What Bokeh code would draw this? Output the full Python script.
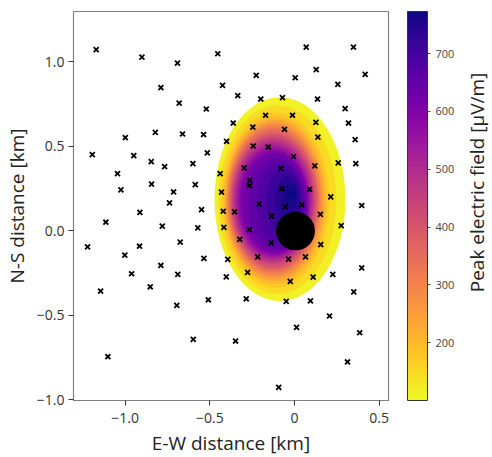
import math
from bokeh.plotting import figure
from bokeh.layouts import row
from bokeh.models import (Range1d, FixedTicker, LinearColorMapper, ColorBar, Label, ColumnDataSource)
from bokeh.palettes import Plasma256
from bokeh.embed import file_html
from bokeh.resources import INLINE

# ---- data (km) ----
# peak field read as nested iso-bands (value in uV/m): centre, full width, full height
band_value = [115, 145, 175, 205, 235, 265, 295, 325, 355, 385, 415, 445, 475, 505,
              535, 565, 595, 625, 655, 685, 715, 742, 762, 773]
band_cx = [-0.0856, -0.1004, -0.1122, -0.1151, -0.1166, -0.1195, -0.1210, -0.1225, -0.1225, -0.1225,
           -0.1240, -0.1254, -0.1254, -0.1254, -0.1254, -0.1240, -0.1210, -0.1166, -0.1033, -0.0826,
           -0.0620, -0.0413, -0.0236, -0.0177]
band_cy = [0.1862, 0.1832, 0.1803, 0.1803, 0.1803, 0.1803, 0.1803, 0.1803, 0.1803, 0.1773,
           0.1773, 0.1773, 0.1773, 0.1743, 0.1714, 0.1714, 0.1684, 0.1655, 0.1596, 0.1566,
           0.1655, 0.1862, 0.2069, 0.2187]
band_w = [0.7733, 0.6966, 0.6375, 0.6080, 0.5874, 0.5697, 0.5549, 0.5401, 0.5283, 0.5165,
          0.5018, 0.4870, 0.4752, 0.4575, 0.4398, 0.4250, 0.4073, 0.3808, 0.3365, 0.2715,
          0.2066, 0.1417, 0.0826, 0.0472]
band_h = [1.2057, 1.1170, 1.0402, 0.9929, 0.9574, 0.9220, 0.8983, 0.8629, 0.8392, 0.8097,
          0.7861, 0.7506, 0.7270, 0.6974, 0.6678, 0.6442, 0.6147, 0.5851, 0.5378, 0.4846,
          0.3960, 0.2719, 0.1478, 0.0650]

cluster_x = [0.006]
cluster_y = [-0.002]
cluster_r = [0.110]

station_x = [-1.171, -0.901, -0.691, -0.453, -0.789, -0.425, -0.335, -0.681, -0.521, -0.362,
             -0.999, -0.822, -0.661, -0.537, -0.401, -1.194, -0.949, -0.846, -0.767, -0.600,
             -0.515, -1.045, -0.297, -1.025, -0.844, -0.714, -0.586, -0.439, -0.431, -0.913,
             -0.738, -0.549, -0.421, -0.354, -1.114, -0.781, -0.571, -0.417,
             -1.222, -0.915, -0.675, -1.002, -0.323, -0.535, -0.394, -0.962, -0.789, -0.689,
             -0.403, -0.277, -1.145, -0.852, -0.695, -0.509, -0.285, -0.598, -0.348, -1.102,
             0.069, 0.348, -0.226, 0.004, 0.128, 0.417, -0.199, -0.071, 0.136, 0.256,
             0.299, -0.171, -0.012, -0.246, -0.059, 0.126, 0.319, -0.244, -0.155, 0.138,
             0.358, -0.006, -0.081, 0.120, 0.258, 0.362, -0.264, -0.266, -0.075, 0.089,
             0.214, -0.208, -0.055, 0.043, 0.153, 0.397, -0.136, -0.266, 0.276,
             -0.138, 0.155, -0.217, -0.035, 0.065, -0.025, 0.110, 0.226, 0.397, -0.049,
             0.094, 0.350, 0.207, 0.012, 0.385, 0.313, -0.093]
station_y = [1.071, 1.027, 0.992, 1.047, 0.846, 0.860, 0.799, 0.755, 0.720, 0.637,
             0.551, 0.582, 0.572, 0.569, 0.529, 0.450, 0.444, 0.409, 0.379, 0.397,
             0.460, 0.338, 0.371, 0.241, 0.275, 0.229, 0.273, 0.338, 0.228, 0.108,
             0.164, 0.125, 0.115, 0.111, 0.050, 0.027, 0.017, 0.019,
             -0.096, -0.092, -0.068, -0.145, -0.052, -0.164, -0.170, -0.255, -0.206, -0.259,
             -0.273, -0.247, -0.358, -0.332, -0.442, -0.409, -0.403, -0.643, -0.653, -0.746,
             1.086, 1.086, 0.919, 0.905, 0.953, 0.925, 0.779, 0.787, 0.779, 0.866,
             0.722, 0.683, 0.683, 0.613, 0.600, 0.641, 0.637, 0.501, 0.495, 0.554,
             0.539, 0.439, 0.368, 0.383, 0.401, 0.397, 0.298, 0.266, 0.249, 0.245,
             0.200, 0.157, 0.141, 0.152, 0.096, 0.149, 0.086, 0.006, 0.030,
             -0.072, -0.082, -0.155, -0.168, -0.155, -0.300, -0.275, -0.259, -0.220, -0.418,
             -0.415, -0.362, -0.505, -0.572, -0.604, -0.777, -0.927]

x_ticks = [-1.0, -0.5, 0.0, 0.5]
x_tick_labels = ["\u22121.0", "\u22120.5", "0", "0.5"]
y_ticks = [1.0, 0.5, 0.0, -0.5, -1.0]
y_tick_labels = ["1.0", "0.5", "0.0", "\u22120.5", "\u22121.0"]
cbar_ticks = [200, 300, 400, 500, 600, 700]
field_low, field_high = 100, 773

FONT = "Open Sans"
TOP, BOTTOM = 11, 61

p = figure(frame_width=315, frame_height=389,
           x_range=Range1d(-1.305, 0.555), y_range=Range1d(-1.005, 1.297),
           output_backend="svg", toolbar_location=None,
           min_border_left=67, min_border_right=19, min_border_top=TOP, min_border_bottom=BOTTOM)
p.background_fill_color = "white"
p.border_fill_color = "white"
p.outline_line_color = "#808080"
p.outline_line_width = 1.2
p.xgrid.visible = False
p.ygrid.visible = False

mapper = LinearColorMapper(palette=list(reversed(Plasma256)), low=field_low, high=field_high)

bands = ColumnDataSource(dict(x=band_cx, y=band_cy, w=band_w, h=band_h, v=band_value))
p.ellipse(x="x", y="y", width="w", height="h", source=bands,
          fill_color={"field": "v", "transform": mapper}, line_color=None)
p.circle(x=cluster_x, y=cluster_y, radius=cluster_r, fill_color="black", line_color="black", line_width=1.5)
p.scatter(x=station_x, y=station_y, marker="x", size=7, line_color="black", line_width=1.8)

for ax in (p.xaxis[0], p.yaxis[0]):
    ax.axis_line_color = "#808080"
    ax.major_tick_line_color = "#333333"
    ax.major_tick_out = 5
    ax.major_tick_in = 0
    ax.minor_tick_line_color = None
    ax.major_label_text_font = FONT
    ax.major_label_text_font_size = "14px"
    ax.major_label_text_color = "#333333"
    ax.axis_label_text_font = FONT
    ax.axis_label_text_font_size = "19px"
    ax.axis_label_text_font_style = "normal"
    ax.axis_label_text_color = "#222222"

p.xaxis.ticker = FixedTicker(ticks=x_ticks)
p.xaxis.major_label_overrides = dict(zip(x_ticks, x_tick_labels))
p.yaxis.ticker = FixedTicker(ticks=y_ticks)
p.yaxis.major_label_overrides = dict(zip(y_ticks, y_tick_labels))
p.xaxis.axis_label = "E-W distance [km]"
p.yaxis.axis_label = "N-S distance [km]"
p.xaxis.major_label_standoff = 7
p.xaxis.axis_label_standoff = 4
p.yaxis.major_label_standoff = 4
p.yaxis.axis_label_standoff = 4

# colour bar panel
c = figure(frame_width=83, frame_height=389, x_range=Range1d(0, 1), y_range=Range1d(0, 1),
           output_backend="svg", toolbar_location=None,
           x_axis_location=None, y_axis_location=None,
           min_border_left=0, min_border_right=0, min_border_top=TOP, min_border_bottom=BOTTOM)
c.outline_line_color = None
c.xgrid.visible = False
c.ygrid.visible = False
c.background_fill_color = "white"
c.border_fill_color = "white"

cb = ColorBar(color_mapper=mapper, ticker=FixedTicker(ticks=cbar_ticks),
              width=20, height=389, padding=0, margin=0, location=(0, 0),
              major_label_text_font=FONT, major_label_text_font_size="11px",
              major_label_text_color="#444444",
              major_tick_line_color="#444444", major_tick_out=3, major_tick_in=0,
              minor_tick_line_color=None, label_standoff=5,
              bar_line_color="#333333", background_fill_color=None, border_line_color=None)
c.add_layout(cb, "center")

title = Label(x=69, y=218, x_units="screen", y_units="screen",
              text="Peak electric field [\u03bcV/m]", angle=math.pi / 2,
              text_align="center", text_baseline="middle",
              text_font=FONT, text_font_size="19px", text_color="#222222")
c.add_layout(title)

layout = row(p, c, spacing=0)
open("out.html", "w").write(file_html(layout, INLINE))
